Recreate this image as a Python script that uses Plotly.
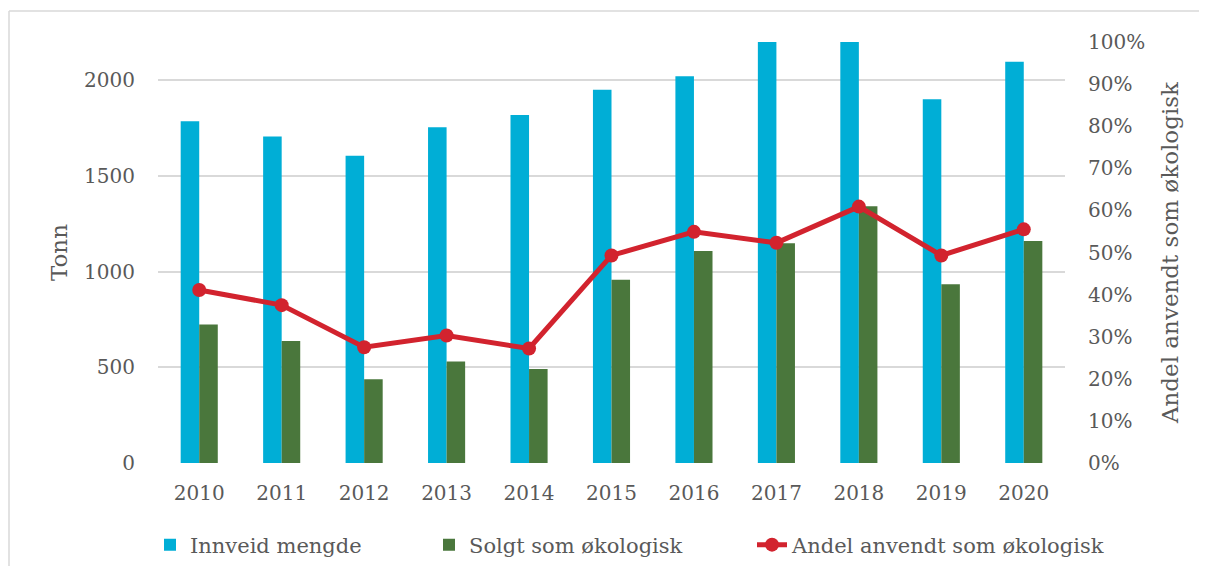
import plotly.graph_objects as go

years = ["2010", "2011", "2012", "2013", "2014", "2015", "2016", "2017", "2018", "2019", "2020"]
innveid = [1786, 1706, 1606, 1755, 1818, 1951, 2021, 2200, 2200, 1901, 2097]
solgt = [724, 637, 437, 531, 491, 958, 1108, 1148, 1342, 934, 1160]
andel = [0.411, 0.375, 0.275, 0.303, 0.272, 0.493, 0.549, 0.523, 0.609, 0.493, 0.555]

left_ticks = [0, 500, 1000, 1500, 2000]
right_ticks = [i / 10 for i in range(11)]

FONT = "DejaVu Serif"
GRAY = "#595959"

OFF = 8  # page body margin
W, H = 1207 - 2 * OFF, 574 - 2 * OFF  # fit inside the viewport, no scrollbars
# plot area in screen pixels
L, R, T, B = 158, 1065, 42, 463
Lf, Rf, Tf, Bf = L - OFF, R - OFF, T - OFF, B - OFF

fig = go.Figure()
fig.add_trace(go.Bar(x=years, y=innveid, name="Innveid mengde", marker_color="#00AED6",
                     marker_line_width=0, legend="legend"))
fig.add_trace(go.Bar(x=years, y=solgt, name="Solgt som økologisk", marker_color="#4A773C",
                     marker_line_width=0, legend="legend2"))
fig.add_trace(go.Scatter(x=years, y=andel, name="Andel anvendt som økologisk", yaxis="y2",
                         mode="lines+markers", line=dict(color="#D2232E", width=5),
                         marker=dict(size=14, color="#D2232E"), legend="legend3"))

def px(x):
    return (x - L) / (R - L)

def py(y):
    return (B - y) / (B - T)

def leg(xs):
    return dict(orientation="h", x=px(xs), xanchor="left", y=py(545), yanchor="middle",
                font=dict(size=21, color=GRAY), bgcolor="rgba(0,0,0,0)")

fig.update_layout(
    width=W, height=H,
    margin=dict(l=Lf, r=W - Rf, t=Tf, b=H - Bf, autoexpand=False),
    paper_bgcolor="white", plot_bgcolor="white",
    barmode="group", bargap=0.55, bargroupgap=0,
    font=dict(family=FONT, color=GRAY, size=20),
    showlegend=True,
    legend=leg(150), legend2=leg(429), legend3=leg(752),
    xaxis=dict(type="category", range=[-0.5, len(years) - 0.5], showgrid=False,
               showline=False, ticks="", automargin=False,
               tickfont=dict(size=20, color=GRAY), ticklabelstandoff=16),
    yaxis=dict(range=[0, 2200], tickvals=left_ticks, showgrid=True, gridcolor="#D9D9D9",
               gridwidth=1.5, zeroline=False, showline=False, ticks="", automargin=False,
               tickfont=dict(size=20, color=GRAY), ticklabelstandoff=22,
               title=dict(text="Tonn", font=dict(size=23, color=GRAY), standoff=10)),
    yaxis2=dict(range=[0, 1], tickvals=right_ticks, tickformat=".0%", overlaying="y",
                side="right", showgrid=False, zeroline=False, showline=False, ticks="",
                automargin=False,
                tickfont=dict(size=20, color=GRAY), ticklabelstandoff=22,
                title=dict(text="Andel anvendt som økologisk", font=dict(size=23, color=GRAY),
                           standoff=17)),
    shapes=[
        dict(type="line", xref="paper", yref="paper", x0=px(9), x1=px(1240), y0=py(11), y1=py(11),
             line=dict(color="#D9D9D9", width=1.5), layer="below"),
        dict(type="line", xref="paper", yref="paper", x0=px(9), x1=px(9), y0=py(11), y1=py(600),
             line=dict(color="#D9D9D9", width=1.5), layer="below"),
    ],
)

fig.write_html("out.html")
